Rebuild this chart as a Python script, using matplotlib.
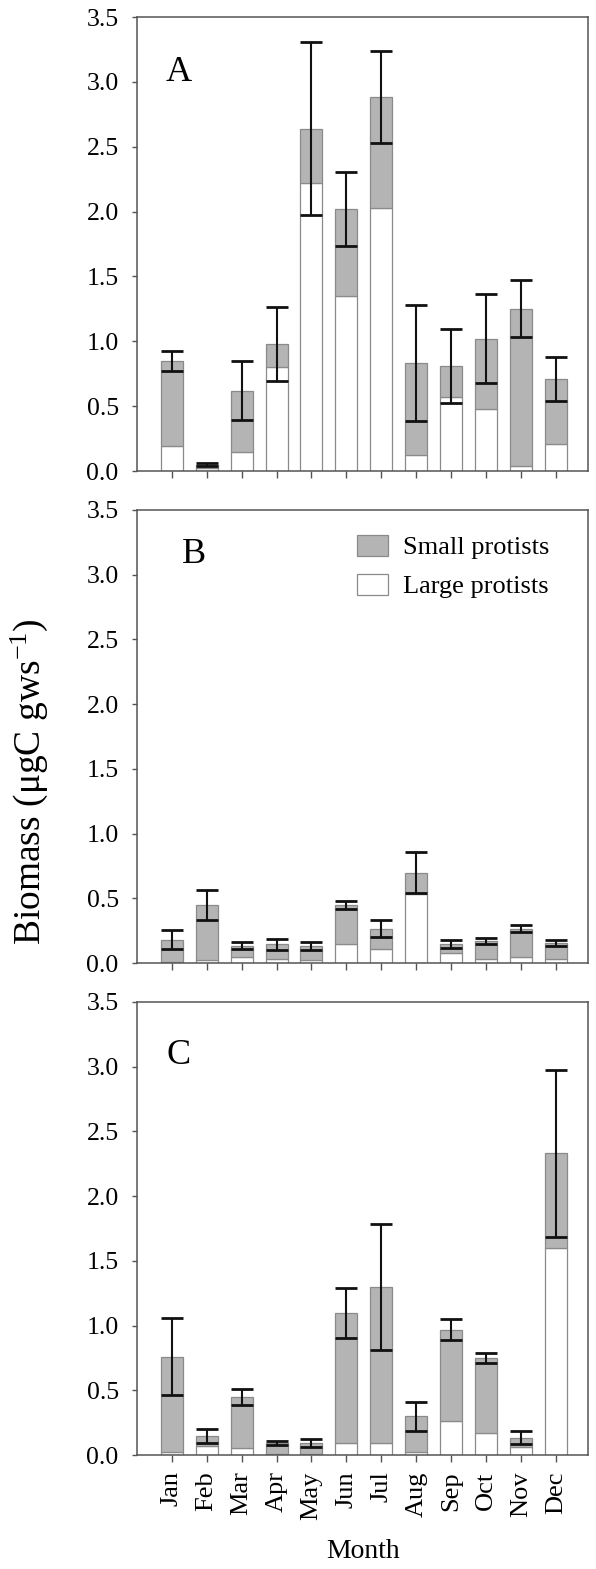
import matplotlib
matplotlib.use("Agg")
import matplotlib.pyplot as plt
from matplotlib.patches import Patch
import numpy as np

plt.rcParams['font.family'] = ['Liberation Serif', 'DejaVu Serif']
plt.rcParams['mathtext.fontset'] = 'custom'
plt.rcParams['mathtext.rm'] = 'Liberation Serif'
plt.rcParams['mathtext.it'] = 'Liberation Serif:italic'

months = ["Jan", "Feb", "Mar", "Apr", "May", "Jun", "Jul", "Aug", "Sep", "Oct", "Nov", "Dec"]

# Panel A
a_large = [0.19, 0.02, 0.15, 0.80, 2.22, 1.35, 2.03, 0.12, 0.57, 0.48, 0.04, 0.21]
a_total = [0.85, 0.05, 0.62, 0.98, 2.64, 2.02, 2.88, 0.83, 0.81, 1.02, 1.25, 0.71]
a_err = [0.077, 0.01, 0.225, 0.285, 0.665, 0.283, 0.355, 0.447, 0.283, 0.345, 0.22, 0.17]

# Panel B
b_large = [0.01, 0.02, 0.05, 0.03, 0.02, 0.15, 0.11, 0.53, 0.08, 0.03, 0.05, 0.03]
b_total = [0.18, 0.45, 0.135, 0.145, 0.13, 0.448, 0.265, 0.698, 0.148, 0.172, 0.265, 0.157]
b_err = [0.075, 0.116, 0.025, 0.043, 0.03, 0.028, 0.066, 0.16, 0.032, 0.022, 0.025, 0.024]

# Panel C
c_large = [0.025, 0.07, 0.055, 0.01, 0.01, 0.09, 0.095, 0.025, 0.26, 0.17, 0.06, 1.60]
c_total = [0.76, 0.148, 0.448, 0.095, 0.092, 1.095, 1.297, 0.30, 0.969, 0.751, 0.134, 2.33]
c_err = [0.30, 0.052, 0.059, 0.015, 0.032, 0.193, 0.486, 0.112, 0.081, 0.039, 0.048, 0.647]

panels = [("A", a_large, a_total, a_err),
          ("B", b_large, b_total, b_err),
          ("C", c_large, c_total, c_err)]

W, H = 596, 1569
fig = plt.figure(figsize=(W / 100, H / 100), dpi=100)

left_px, right_px = 137.3, 588
tops_bottoms = [(17, 471), (510, 963), (1002, 1455)]
letter_pos = [(0.062, 0.859), (0.099, 0.883), (0.064, 0.863)]

grey = '#b4b4b4'
edge = '#8a8a8a'
spine_c = '#555555'
x = np.arange(len(months))
bw = 0.63

for i, ((lab, large, total, err), (t, b)) in enumerate(zip(panels, tops_bottoms)):
    ax = fig.add_axes([left_px / W, 1 - b / H, (right_px - left_px) / W, (b - t) / H])
    large = np.array(large)
    total = np.array(total)
    small = total - large
    ax.bar(x, large, width=bw, color='white', edgecolor=edge, linewidth=0.9, zorder=2)
    ax.bar(x, small, bottom=large, width=bw, color=grey, edgecolor=edge, linewidth=0.9, zorder=2)
    ax.errorbar(x, total, yerr=err, fmt='none', ecolor='#111111', elinewidth=1.5,
                capsize=7.9, capthick=2.0, zorder=3)
    ax.set_xlim(-0.985, 11.916)
    ax.set_ylim(0, 3.5)
    ax.set_yticks(np.arange(0, 3.51, 0.5))
    ax.set_yticklabels([f"{v:.1f}" for v in np.arange(0, 3.51, 0.5)])
    ax.set_xticks(x)
    ax.tick_params(axis='y', direction='out', length=3.4, width=1.0, color=spine_c,
                   labelsize=18.5, pad=10)
    ax.tick_params(axis='x', direction='out', length=4.8, width=1.0, color=spine_c,
                   labelsize=19, pad=7)
    for s in ax.spines.values():
        s.set_color(spine_c)
        s.set_linewidth(1.1)
    if i == 2:
        ax.set_xticklabels(months, rotation=90)
        ax.set_xlabel("Month", fontsize=20, labelpad=14)
    else:
        ax.set_xticklabels([])
    ax.text(letter_pos[i][0], letter_pos[i][1], lab, transform=ax.transAxes,
            fontsize=26, ha='left', va='baseline')
    if i == 1:
        handles = [Patch(facecolor=grey, edgecolor=edge, linewidth=0.9),
                   Patch(facecolor='white', edgecolor=edge, linewidth=0.9)]
        ax.legend(handles, ["Small protists", "Large protists"], loc='upper left',
                  bbox_to_anchor=(0.487, 0.945), frameon=False, fontsize=19,
                  handlelength=1.17, handleheight=0.83, handletextpad=0.57,
                  labelspacing=0.55, borderpad=0, borderaxespad=0)

fig.text(0.0495, 0.502, "Biomass (μgC gws$^{-1}$)", rotation=90, ha='center', va='center',
         fontsize=27)

fig.savefig("out.png", dpi=100)
